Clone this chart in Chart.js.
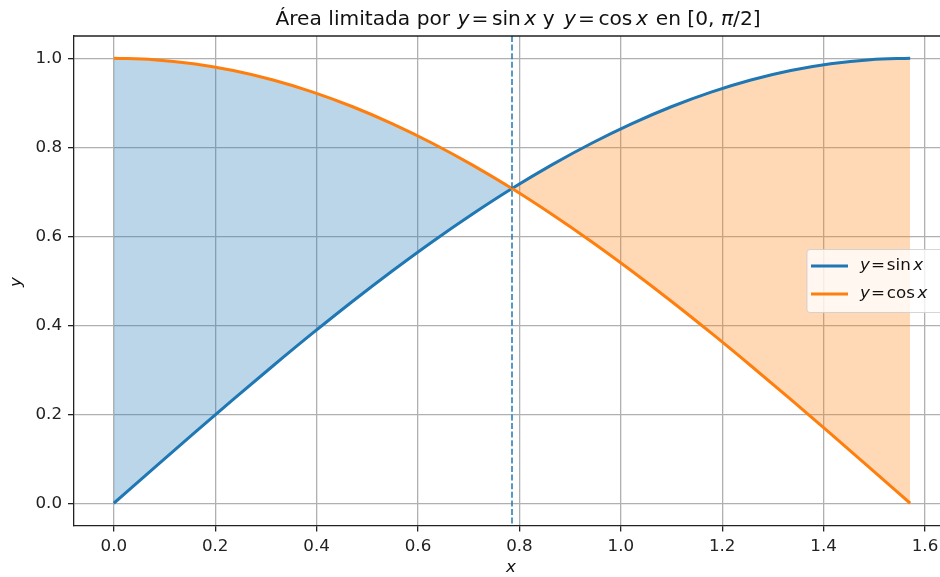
<!DOCTYPE html>
<html>
<head>
<meta charset="utf-8">
<script src="https://cdn.jsdelivr.net/npm/chart.js@4"></script>
<style>
  html, body { margin: 0; padding: 0; background: #fff; overflow: hidden; }
  #wrap { width: 960px; height: 577px; }
</style>
</head>
<body>
<div id="wrap"><canvas id="c" width="960" height="577"></canvas></div>
<script>
// Sample points on [0, π/2]
const xValues = [0, 0.0785, 0.1571, 0.2356, 0.3142, 0.3927, 0.4712, 0.5498, 0.6283, 0.7069,
                 0.7854, 0.8639, 0.9425, 1.0210, 1.0996, 1.1781, 1.2566, 1.3352, 1.4137, 1.4923, 1.5708];
const sinValues = [0, 0.0785, 0.1564, 0.2334, 0.3090, 0.3827, 0.4540, 0.5225, 0.5878, 0.6494,
                   0.7071, 0.7604, 0.8090, 0.8526, 0.8910, 0.9239, 0.9511, 0.9724, 0.9877, 0.9969, 1.0];
const cosValues = [1.0, 0.9969, 0.9877, 0.9724, 0.9511, 0.9239, 0.8910, 0.8526, 0.8090, 0.7604,
                   0.7071, 0.6494, 0.5878, 0.5225, 0.4540, 0.3827, 0.3090, 0.2334, 0.1564, 0.0785, 0.0];
const crossX = 0.7854;   // where the two curves meet
const xTicks = [0.0, 0.2, 0.4, 0.6, 0.8, 1.0, 1.2, 1.4, 1.6];
const yTicks = [0.0, 0.2, 0.4, 0.6, 0.8, 1.0];

const BLUE = '#1f77b4', ORANGE = '#ff7f0e';
const FONT = '"DejaVu Sans", sans-serif';

// Text runs: [string, italic] pieces, or a number for extra spacing in px
function richWidth(ctx, parts, size) {
  let w = 0;
  for (const p of parts) {
    if (typeof p === 'number') { w += p; continue; }
    ctx.font = (p[1] ? 'italic ' : '') + size + 'px ' + FONT;
    w += ctx.measureText(p[0]).width;
  }
  return w;
}
function drawRich(ctx, parts, x, y, size, align) {
  const total = richWidth(ctx, parts, size);
  let cx = align === 'center' ? x - total / 2 : x;
  ctx.textAlign = 'left';
  for (const p of parts) {
    if (typeof p === 'number') { cx += p; continue; }
    ctx.font = (p[1] ? 'italic ' : '') + size + 'px ' + FONT;
    ctx.fillText(p[0], cx, y);
    cx += ctx.measureText(p[0]).width;
  }
}
const eq = (fn) => [['y', true], 2, ['=', false], 3.5, [fn, false], 3.5, ['x', true]];

const overlay = {
  id: 'overlay',
  afterDatasetsDraw(chart) {
    const ctx = chart.ctx, a = chart.chartArea;
    // vertical dashed marker at the crossing
    const px = chart.scales.x.getPixelForValue(crossX);
    ctx.save();
    ctx.strokeStyle = BLUE;
    ctx.lineWidth = 1.5;
    ctx.setLineDash([6, 2.6]);
    ctx.beginPath();
    ctx.moveTo(px, a.top);
    ctx.lineTo(px, a.bottom);
    ctx.stroke();
    ctx.restore();
  },
  afterDraw(chart) {
    const ctx = chart.ctx, a = chart.chartArea;
    ctx.save();
    ctx.setLineDash([]);
    // top and right spines
    ctx.strokeStyle = '#222';
    ctx.lineWidth = 1.3;
    ctx.beginPath();
    ctx.moveTo(a.left, a.top);
    ctx.lineTo(a.right, a.top);
    ctx.lineTo(a.right, a.bottom);
    ctx.stroke();

    ctx.fillStyle = '#111';
    ctx.textBaseline = 'alphabetic';
    // title
    const title = [['Área limitada por ', false], 1, ...eq('sin'), [' y ', false], 3, ...eq('cos'), 1.5,
                   [' en [0, ', false], ['π', true], ['/2]', false]];
    drawRich(ctx, title, 518, 25, 20.2, 'center');

    // axis labels
    ctx.textBaseline = 'middle';
    drawRich(ctx, [['x', true]], 511, 568, 16.7, 'center');
    ctx.save();
    ctx.translate(17, 282);
    ctx.rotate(-Math.PI / 2);
    drawRich(ctx, [['y', true]], 0, 0, 16.7, 'center');
    ctx.restore();

    // legend
    const lx = 807, ly = 249.5, lw = 140, lh = 63;
    ctx.beginPath();
    ctx.roundRect(lx, ly, lw, lh, 3);
    ctx.fillStyle = 'rgba(255,255,255,0.8)';
    ctx.fill();
    ctx.strokeStyle = 'rgba(204,204,204,0.8)';
    ctx.lineWidth = 1;
    ctx.stroke();
    const items = [[BLUE, 'sin', 266], [ORANGE, 'cos', 294]];
    for (const [col, fn, yy] of items) {
      ctx.strokeStyle = col;
      ctx.lineWidth = 3;
      ctx.beginPath();
      ctx.moveTo(811, yy);
      ctx.lineTo(848, yy);
      ctx.stroke();
      ctx.fillStyle = '#111';
      ctx.textBaseline = 'middle';
      drawRich(ctx, [['y', true], 1, ['=', false], 2, [fn, false], 2.5, ['x', true]], 860, yy, 16.7, 'left');
    }
    ctx.restore();
  }
};

const pts = ys => xValues.map((x, i) => ({ x, y: ys[i] }));
const tickFont = { family: FONT, size: 16.7 };

new Chart(document.getElementById('c'), {
  type: 'line',
  data: {
    datasets: [
      {
        label: 'y = cos x',
        data: pts(cosValues),
        borderColor: ORANGE,
        borderWidth: 3,
        pointRadius: 0,
        cubicInterpolationMode: 'monotone',
        fill: false
      },
      {
        label: 'y = sin x',
        data: pts(sinValues),
        borderColor: BLUE,
        borderWidth: 3,
        pointRadius: 0,
        cubicInterpolationMode: 'monotone',
        fill: { target: 0, above: 'rgba(255,127,14,0.3)', below: 'rgba(31,119,180,0.3)' }
      }
    ]
  },
  options: {
    responsive: false,
    animation: false,
    devicePixelRatio: 1,
    layout: { padding: { left: 0, top: 36, right: 10, bottom: 0 } },
    plugins: {
      legend: { display: false },
      title: { display: false },
      tooltip: { enabled: false }
    },
    scales: {
      x: {
        type: 'linear',
        min: -0.0785,
        max: 1.6493,
        afterBuildTicks: s => { s.ticks = xTicks.map(v => ({ value: v })); },
        afterFit: s => { s.height = 51.5; },
        ticks: {
          callback: v => Number(v).toFixed(1),
          font: tickFont,
          color: '#222',
          padding: 5,
          maxRotation: 0,
          autoSkip: false
        },
        grid: { color: '#b0b0b0', lineWidth: 1.3, tickColor: '#222', tickLength: 6 },
        border: { color: '#222', width: 1.3 }
      },
      y: {
        type: 'linear',
        min: -0.05,
        max: 1.05,
        afterBuildTicks: s => { s.ticks = yTicks.map(v => ({ value: v })); },
        afterFit: s => { s.width = 74; },
        ticks: {
          callback: v => Number(v).toFixed(1),
          font: tickFont,
          color: '#222',
          padding: 6,
          autoSkip: false
        },
        grid: { color: '#b0b0b0', lineWidth: 1.3, tickColor: '#222', tickLength: 6 },
        border: { color: '#222', width: 1.3 }
      }
    }
  },
  plugins: [overlay]
});
</script>
</body>
</html>
